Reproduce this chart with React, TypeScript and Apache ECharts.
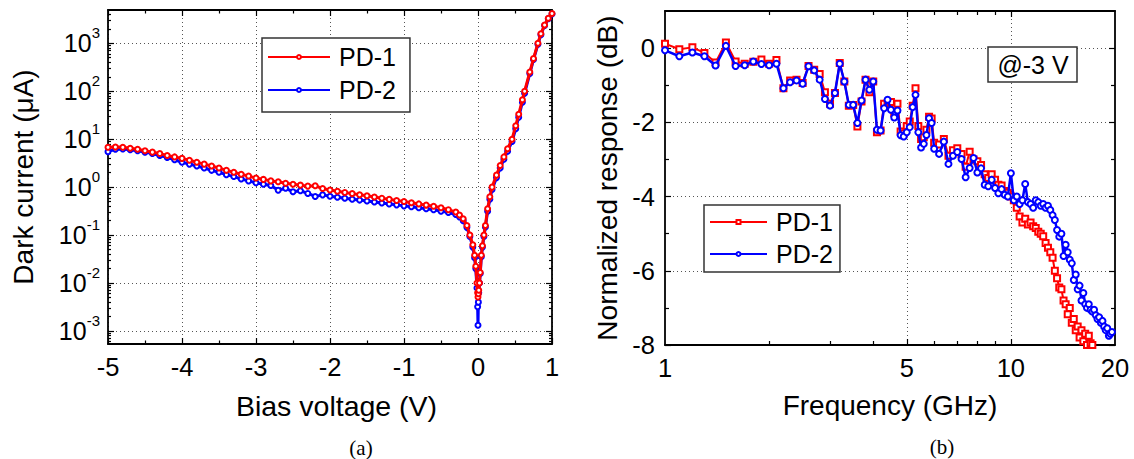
import React, { useEffect, useRef } from "react";
import * as echarts from "echarts";

// ---------------- (a) Dark current vs bias voltage ----------------
const BIAS_V = [
  -5.0, -4.9, -4.8, -4.7, -4.6, -4.5, -4.4, -4.3, -4.2, -4.1, -4.0, -3.9, -3.8, -3.7, -3.6, -3.5,
  -3.4, -3.3, -3.2, -3.1, -3.0, -2.9, -2.8, -2.7, -2.6, -2.5, -2.4, -2.3, -2.2, -2.1, -2.0, -1.9,
  -1.8, -1.7, -1.6, -1.5, -1.4, -1.3, -1.2, -1.1, -1.0, -0.9, -0.8, -0.7, -0.6, -0.5, -0.4, -0.3,
  -0.25, -0.2, -0.15, -0.11, -0.07, -0.046, -0.03, -0.014, -0.005, 0,
  0.005, 0.01, 0.02, 0.03, 0.045, 0.06, 0.08, 0.1, 0.13, 0.16, 0.19, 0.25, 0.3, 0.35, 0.4, 0.46,
  0.51, 0.55, 0.6, 0.63, 0.7, 0.75, 0.81, 0.85, 0.9, 0.95, 1.0,
];

const PD1_DARK_UA = [
  6.76, 6.84, 6.76, 6.46, 6.17, 5.75, 5.37, 5.01, 4.57, 4.27, 3.98, 3.63, 3.31, 3.02, 2.75, 2.51,
  2.24, 2.04, 1.86, 1.70, 1.55, 1.45, 1.35, 1.29, 1.20, 1.15, 1.10, 1.05, 1.07, 0.933, 0.871, 0.822,
  0.776, 0.733, 0.692, 0.661, 0.624, 0.589, 0.556, 0.525, 0.501, 0.473, 0.447, 0.422, 0.398, 0.372, 0.339, 0.302,
  0.263, 0.219, 0.158, 0.1, 0.0631, 0.038, 0.0224, 0.01, 0.0063, 0.0051,
  0.006, 0.0071, 0.01, 0.0166, 0.038, 0.06, 0.1, 0.158, 0.355, 0.631, 1.0, 1.78, 2.82, 4.27, 6.31, 10.0,
  19.1, 33.1, 66.1, 100, 251, 479, 1000, 1585, 2399, 3311, 4169,
];

const PD2_DARK_UA = [
  5.5, 6.17, 6.24, 6.03, 5.75, 5.37, 5.01, 4.57, 4.17, 3.72, 3.31, 3.02, 2.75, 2.51, 2.24, 2.04,
  1.82, 1.66, 1.48, 1.35, 1.23, 1.15, 1.08, 0.86, 0.95, 0.8, 0.84, 0.74, 0.64, 0.69, 0.646, 0.617,
  0.589, 0.562, 0.537, 0.513, 0.49, 0.468, 0.447, 0.427, 0.407, 0.389, 0.372, 0.355, 0.339, 0.316, 0.295, 0.269,
  0.24, 0.2, 0.145, 0.0933, 0.0562, 0.0339, 0.02, 0.0079, 0.0032, 0.00132,
  0.004, 0.0063, 0.01, 0.0158, 0.0355, 0.0562, 0.0933, 0.148, 0.316, 0.562, 0.891, 1.58, 2.51, 3.8, 5.62, 8.91,
  16.6, 28.8, 58.9, 91.2, 234, 457, 955, 1514, 2344, 3236, 4074,
];

const DARK_Y_MIN = 5.36e-4;
const DARK_Y_MAX = 4940;
const DARK_Y_DECADES = [0.001, 0.01, 0.1, 1, 10, 100, 1000];

// ---------------- (b) Normalized response vs frequency ----------------
const FREQ_GHZ = [
  1.0, 1.1, 1.2, 1.3, 1.4, 1.5, 1.6, 1.7, 1.8, 1.9, 2.0, 2.1, 2.2, 2.3, 2.4, 2.5, 2.6, 2.7, 2.8, 2.9,
  3.0, 3.1, 3.2, 3.3, 3.4, 3.5, 3.6, 3.7, 3.8, 3.9, 4.0, 4.1, 4.2, 4.3, 4.4, 4.5, 4.6, 4.7, 4.8, 4.9,
  5.0, 5.1, 5.2, 5.3, 5.4, 5.5, 5.6, 5.7, 5.8, 5.9, 6.0,
  6.2, 6.4, 6.6, 6.8, 7.0, 7.2, 7.4, 7.6, 7.8, 8.0, 8.2, 8.4, 8.6, 8.8, 9.0, 9.2, 9.4, 9.6, 9.8,
  10.0, 10.2, 10.4, 10.6, 10.8, 11.0, 11.2, 11.4, 11.6, 11.8, 12.0, 12.2, 12.4, 12.6, 12.8, 13.0,
  13.2, 13.4, 13.6, 13.8, 14.0, 14.2, 14.4, 14.6, 14.8, 15.0, 15.2, 15.4, 15.6, 15.8, 16.0, 16.2,
  16.4, 16.6, 16.8, 17.0, 17.2, 17.4, 17.6, 17.8, 18.0, 18.2, 18.4, 18.6, 18.8, 19.0, 19.2, 19.4, 19.6,
];

const PD1_RESP_DB = [
  0.12, -0.03, 0.02, -0.13, -0.39, 0.15, -0.36, -0.42, -0.37, -0.31, -0.42, -0.32, -1.08, -0.87, -0.85, -0.94,
  -0.48, -0.58, -0.7, -1.19, -1.5, -1.21, -0.4, -0.9, -1.55, -1.53, -2.11, -1.44, -0.85, -1.19, -0.9, -2.27,
  -2.22, -1.5, -1.5, -1.45, -1.75, -1.5, -2.25, -2.3, -2.1, -1.98, -1.55, -1.08, -2.1, -2.45, -2.4, -2.2,
  -1.85, -1.9, -2.55,
  -2.6, -2.45, -2.9, -2.75, -2.7, -2.85, -3.2, -2.79, -3.0, -3.05, -3.15, -3.4, -3.5, -3.4, -3.55, -3.68,
  -3.7, -3.85, -3.9,
  -4.0, -4.1, -4.3, -4.54, -4.7, -4.6, -4.75, -4.7, -4.8, -4.85, -4.95, -5.0, -5.07, -5.25, -5.38, -5.5,
  -5.65, -6.0, -6.2, -6.45, -6.5, -6.8, -6.9, -7.17, -7.0, -7.4, -7.3, -7.6, -7.5, -7.8, -7.6, -7.9,
  -7.7, -8.0, -7.75, -7.95, -8.0,
];

const PD2_RESP_DB = [
  -0.06, -0.22, -0.12, -0.22, -0.47, 0.06, -0.48, -0.46, -0.36, -0.43, -0.46, -0.42, -1.08, -0.92, -0.87, -0.96,
  -0.49, -0.6, -0.85, -1.37, -1.55, -1.21, -0.42, -0.9, -1.53, -1.53, -2.02, -1.41, -0.85, -1.12, -0.9, -2.2,
  -2.22, -1.62, -1.39, -1.66, -1.87, -1.68, -2.35, -2.38, -2.27, -2.13, -1.59, -1.26, -2.27, -2.68, -2.58, -2.34,
  -1.89, -2.02, -2.71,
  -2.85, -2.52, -3.12, -2.9, -2.8, -2.99, -3.48, -3.23, -2.96, -3.35, -3.24, -3.68, -3.72, -3.55, -3.77, -3.91,
  -3.8, -3.95, -4.0,
  -3.37, -4.1, -4.0, -4.2, -4.1, -3.66, -4.15, -4.2, -4.3, -4.1, -4.15, -4.25, -4.2, -4.3, -4.25, -4.36,
  -4.5, -4.63, -4.9, -5.08, -5.0, -5.6, -5.3, -5.5, -5.7, -5.8, -6.25, -6.1, -6.5, -6.4, -6.8, -6.6,
  -6.9, -7.0, -6.9, -7.05, -7.1, -7.05, -7.2, -7.3, -7.25, -7.4, -7.35, -7.5, -7.6, -7.55, -7.75, -7.7,
  -7.65,
];

const FREQ_LABELS = [1, 5, 10, 20];
const FREQ_GRID_TICKS = [5, 10];
const FREQ_MINOR_TICKS = [2, 3, 4, 6, 7, 8, 9];
const DB_MAJOR = [-8, -6, -4, -2, 0];
const DB_MINOR = [-7, -5, -3, -1];

const FONT = "'Liberation Sans', Arial, Helvetica, sans-serif";
const SERIF = "'Liberation Serif', 'Times New Roman', serif";
const RED = "#ff0000";
const BLUE = "#0000ff";

function logMinorTicks(min: number, max: number): number[] {
  const out: number[] = [];
  for (let e = -4; e <= 3; e++) {
    for (let m = 2; m <= 9; m++) {
      const v = Number((m * Math.pow(10, e)).toPrecision(3));
      if (v > min && v < max) out.push(v);
    }
  }
  return out;
}

const AXIS_LINE = { color: "#000", width: 1.8 };
const TICK_LINE = { color: "#000", width: 1.2 };
const GRID_DOT = { color: "#555", width: 1, type: [1, 3] as number[] };

function legendCfg(left: number, top: number, itemWidth: number, itemGap: number, padding: number[]) {
  return {
    data: ["PD-1", "PD-2"],
    orient: "vertical",
    left,
    top,
    itemWidth,
    itemHeight: 5,
    itemGap,
    padding,
    borderColor: "#333",
    borderWidth: 1.5,
    backgroundColor: "#fff",
    selectedMode: false,
    textStyle: { fontSize: 25, color: "#000", fontFamily: FONT, lineHeight: 30, padding: [0, 0, 0, 4] },
  };
}

function leftOption(): any {
  const minor = logMinorTicks(DARK_Y_MIN, DARK_Y_MAX);
  const logBase = { type: "log", logBase: 10, min: DARK_Y_MIN, max: DARK_Y_MAX };
  const hiddenLabel = { show: false };
  const xBase = { type: "value", min: -5, max: 1, interval: 1 };
  return {
    animation: false,
    textStyle: { fontFamily: FONT },
    grid: { left: 108, top: 10, width: 444, height: 334, outerBoundsMode: "none" },
    legend: legendCfg(262, 38, 62, 3, [4, 14, 7, 5]),
    xAxis: [
      {
        ...xBase,
        position: "bottom",
        name: "Bias voltage (V)",
        nameLocation: "middle",
        nameGap: 47,
        nameTextStyle: { fontSize: 28.5, color: "#000", fontFamily: FONT, padding: [0, 0, 0, 13] },
        axisLine: { show: true, onZero: false, lineStyle: AXIS_LINE },
        axisTick: { show: true, inside: true, length: 6, lineStyle: TICK_LINE },
        minorTick: { show: true, splitNumber: 2, length: 3.5, lineStyle: TICK_LINE },
        axisLabel: { fontSize: 25.5, color: "#000", fontFamily: FONT, margin: 10 },
        splitLine: { show: true, lineStyle: GRID_DOT },
      },
      {
        ...xBase,
        position: "top",
        axisLine: { show: true, onZero: false, lineStyle: AXIS_LINE },
        axisTick: { show: true, inside: true, length: 6, lineStyle: TICK_LINE },
        minorTick: { show: true, splitNumber: 2, length: 3.5, lineStyle: TICK_LINE },
        axisLabel: hiddenLabel,
        splitLine: { show: false },
      },
    ],
    yAxis: [
      {
        ...logBase,
        position: "left",
        name: "Dark current (μA)",
        nameLocation: "middle",
        nameRotate: 90,
        nameGap: 71,
        nameTextStyle: { fontSize: 28, color: "#000", fontFamily: FONT },
        axisLine: { show: true, onZero: false, lineStyle: AXIS_LINE },
        axisTick: { show: true, inside: true, length: 6, customValues: DARK_Y_DECADES, lineStyle: TICK_LINE },
        axisLabel: {
          customValues: DARK_Y_DECADES,
          margin: 8,
          color: "#000",
          fontFamily: FONT,
          formatter: (v: number) => `{b|10}{s|${Math.round(Math.log10(v))}}`,
          rich: {
            b: { fontSize: 25, lineHeight: 36, fontFamily: FONT, color: "#000" },
            s: { fontSize: 15, lineHeight: 15, verticalAlign: "top", fontFamily: FONT, color: "#000" },
          },
        },
        splitLine: { show: true, lineStyle: GRID_DOT },
      },
      {
        ...logBase,
        position: "left",
        axisLine: { show: false, onZero: false },
        axisTick: { show: true, inside: true, length: 3, customValues: minor, lineStyle: TICK_LINE },
        axisLabel: hiddenLabel,
        splitLine: { show: false },
      },
      {
        ...logBase,
        position: "right",
        axisLine: { show: true, onZero: false, lineStyle: AXIS_LINE },
        axisTick: { show: true, inside: true, length: 6, customValues: DARK_Y_DECADES, lineStyle: TICK_LINE },
        axisLabel: hiddenLabel,
        splitLine: { show: false },
      },
      {
        ...logBase,
        position: "right",
        axisLine: { show: false, onZero: false },
        axisTick: { show: true, inside: true, length: 3, customValues: minor, lineStyle: TICK_LINE },
        axisLabel: hiddenLabel,
        splitLine: { show: false },
      },
    ],
    series: [
      {
        name: "PD-2",
        type: "line",
        data: BIAS_V.map((v, i) => [v, PD2_DARK_UA[i]]),
        symbol: "emptyCircle",
        symbolSize: 5,
        lineStyle: { color: BLUE, width: 3 },
        itemStyle: { color: BLUE, borderWidth: 1.2 },
        z: 2,
      },
      {
        name: "PD-1",
        type: "line",
        data: BIAS_V.map((v, i) => [v, PD1_DARK_UA[i]]),
        symbol: "emptyCircle",
        symbolSize: 5,
        lineStyle: { color: RED, width: 3 },
        itemStyle: { color: RED, borderWidth: 1.2 },
        z: 3,
      },
    ],
    graphic: [
      {
        type: "text",
        x: 361,
        y: 448,
        z: 100,
        style: { text: "(a)", fontFamily: SERIF, fontSize: 21, fill: "#000", align: "center", verticalAlign: "middle" },
      },
    ],
  };
}

function rightOption(): any {
  const xBase = { type: "log", logBase: 10, min: 1, max: 20 };
  const yBase = { type: "value", min: -8, max: 1 };
  const hiddenLabel = { show: false };
  return {
    animation: false,
    textStyle: { fontFamily: FONT },
    grid: { left: 98, top: 11, width: 450, height: 334, outerBoundsMode: "none" },
    legend: legendCfg(137, 205, 57, 2, [2, 7, 3, 5]),
    xAxis: [
      {
        ...xBase,
        position: "bottom",
        name: "Frequency (GHz)",
        nameLocation: "middle",
        nameGap: 46,
        nameTextStyle: { fontSize: 28, color: "#000", fontFamily: FONT },
        axisLine: { show: true, onZero: false, lineStyle: AXIS_LINE },
        axisTick: { show: true, inside: true, length: 6, customValues: FREQ_GRID_TICKS, lineStyle: TICK_LINE },
        axisLabel: { customValues: FREQ_LABELS, fontSize: 25.5, color: "#000", fontFamily: FONT, margin: 10 },
        splitLine: { show: true, lineStyle: GRID_DOT },
      },
      {
        ...xBase,
        position: "bottom",
        axisLine: { show: false, onZero: false },
        axisTick: { show: true, inside: true, length: 4, customValues: FREQ_MINOR_TICKS, lineStyle: TICK_LINE },
        axisLabel: hiddenLabel,
        splitLine: { show: false },
      },
      {
        ...xBase,
        position: "top",
        axisLine: { show: true, onZero: false, lineStyle: AXIS_LINE },
        axisTick: { show: true, inside: true, length: 6, customValues: FREQ_GRID_TICKS, lineStyle: TICK_LINE },
        axisLabel: hiddenLabel,
        splitLine: { show: false },
      },
      {
        ...xBase,
        position: "top",
        axisLine: { show: false, onZero: false },
        axisTick: { show: true, inside: true, length: 4, customValues: FREQ_MINOR_TICKS, lineStyle: TICK_LINE },
        axisLabel: hiddenLabel,
        splitLine: { show: false },
      },
    ],
    yAxis: [
      {
        ...yBase,
        position: "left",
        name: "Normalized response (dB)",
        nameLocation: "middle",
        nameRotate: 90,
        nameGap: 41,
        nameTextStyle: { fontSize: 28, color: "#000", fontFamily: FONT },
        axisLine: { show: true, onZero: false, lineStyle: AXIS_LINE },
        axisTick: { show: true, inside: true, length: 6, customValues: DB_MAJOR, lineStyle: TICK_LINE },
        axisLabel: { customValues: DB_MAJOR, fontSize: 25.5, color: "#000", fontFamily: FONT, margin: 10 },
        splitLine: { show: true, lineStyle: GRID_DOT },
      },
      {
        ...yBase,
        position: "left",
        axisLine: { show: false, onZero: false },
        axisTick: { show: true, inside: true, length: 4, customValues: DB_MINOR, lineStyle: TICK_LINE },
        axisLabel: hiddenLabel,
        splitLine: { show: false },
      },
      {
        ...yBase,
        position: "right",
        axisLine: { show: true, onZero: false, lineStyle: AXIS_LINE },
        axisTick: { show: true, inside: true, length: 6, customValues: DB_MAJOR, lineStyle: TICK_LINE },
        axisLabel: hiddenLabel,
        splitLine: { show: false },
      },
      {
        ...yBase,
        position: "right",
        axisLine: { show: false, onZero: false },
        axisTick: { show: true, inside: true, length: 4, customValues: DB_MINOR, lineStyle: TICK_LINE },
        axisLabel: hiddenLabel,
        splitLine: { show: false },
      },
    ],
    series: [
      {
        name: "PD-1",
        type: "line",
        data: PD1_RESP_DB.map((v, i) => [FREQ_GHZ[i], v]),
        symbol: "emptyRect",
        symbolSize: 6,
        lineStyle: { color: RED, width: 2 },
        itemStyle: { color: RED, borderWidth: 1.2 },
        z: 2,
      },
      {
        name: "PD-2",
        type: "line",
        data: PD2_RESP_DB.map((v, i) => [FREQ_GHZ[i], v]),
        symbol: "emptyCircle",
        symbolSize: 6,
        lineStyle: { color: BLUE, width: 2.5 },
        itemStyle: { color: BLUE, borderWidth: 1.2 },
        z: 3,
      },
    ],
    graphic: [
      {
        type: "rect",
        z: 100,
        shape: { x: 421, y: 47, width: 89, height: 35 },
        style: { fill: "#fff", stroke: "#333", lineWidth: 1.5 },
      },
      {
        type: "text",
        x: 466,
        y: 65,
        z: 101,
        style: { text: "@-3 V", fontFamily: FONT, fontSize: 25, fill: "#000", align: "center", verticalAlign: "middle" },
      },
      {
        type: "text",
        x: 375,
        y: 447,
        z: 100,
        style: { text: "(b)", fontFamily: SERIF, fontSize: 21, fill: "#000", align: "center", verticalAlign: "middle" },
      },
    ],
  };
}

export default function App() {
  const leftRef = useRef<HTMLDivElement>(null);
  const rightRef = useRef<HTMLDivElement>(null);

  useEffect(() => {
    if (!leftRef.current || !rightRef.current) return;
    const left = echarts.init(leftRef.current, undefined, { renderer: "svg" });
    const right = echarts.init(rightRef.current, undefined, { renderer: "svg" });
    left.setOption(leftOption());
    right.setOption(rightOption());
    return () => {
      left.dispose();
      right.dispose();
    };
  }, []);

  return (
    <div style={{ position: "fixed", left: 0, top: 0, width: 1134, height: 459, background: "#fff" }}>
      <div ref={leftRef} style={{ position: "absolute", left: 0, top: 0, width: 567, height: 459 }} />
      <div ref={rightRef} style={{ position: "absolute", left: 567, top: 0, width: 567, height: 459 }} />
    </div>
  );
}
